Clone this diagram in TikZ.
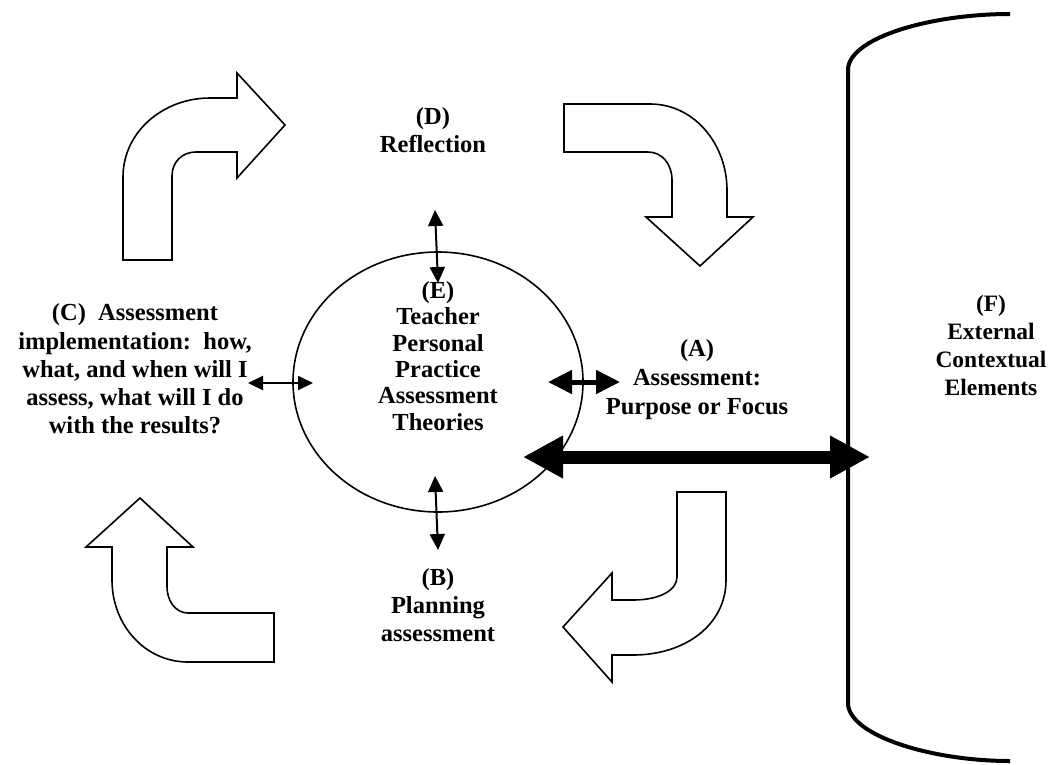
\documentclass[tikz,border=0pt]{standalone}
\usepackage{fontspec}
\setmainfont{Liberation Serif}
\usetikzlibrary{arrows.meta}
\begin{document}
\begin{tikzpicture}[x=1pt,y=-1pt,
  lbl/.style={align=center,inner sep=0pt,font=\bfseries\fontsize{24.5}{#1}\selectfont},
  bent/.style={draw=black,line width=1.6pt,line join=miter,fill=white},
  thin/.style={line width=2pt,{Triangle[length=16pt,width=15pt]}-{Triangle[length=16pt,width=15pt]}},
  mid/.style={line width=5pt,{Triangle[length=24pt,width=23pt]}-{Triangle[length=24pt,width=23pt]}},
  thick/.style={line width=13pt,{Triangle[length=40pt,width=40pt]}-{Triangle[length=40pt,width=40pt]}}]
\useasboundingbox (0,0) rectangle (1049,764);

% central theory ellipse
\draw[line width=1.6pt] (438,382) ellipse [x radius=145, y radius=130];
\node[lbl=26.4] (E) at (438,356) {(E)\\Teacher\\Personal\\Practice\\Assessment\\Theories};

% cycle stage labels
\node[lbl=28] (D) at (433,130) {(D)\\Reflection};
\node[lbl=29] (A) at (697,380) {(A)\\Assessment:\\Purpose or Focus};
\node[lbl=28] (B) at (438,605) {(B)\\Planning\\assessment};
\node[lbl=28.3] (C) at (135,369) {(C)\ \ Assessment\\implementation:\ \ how,\\what, and when will I\\assess, what will I do\\with the results?};
\node[lbl=28,font=\bfseries\fontsize{23.5}{28}\selectfont] (F) at (991,345) {(F)\\External\\Contextual\\Elements};

% external context bracket
\draw[line width=4pt] (1010,14) .. controls (930,14) and (848,38) .. (848,70)
  -- (848,703) .. controls (848,735) and (930,761) .. (1010,761);

% bent cycle arrows
\draw[bent] (123,260) -- (123,177) .. controls (123,132) and (163,98) .. (210,98)
  -- (237,98) -- (237,73) -- (285,125) -- (237,178) -- (237,152) -- (196,152)
  .. controls (182,152) and (172,162) .. (172,176) -- (172,260) -- cycle;
\draw[bent] (564,104) -- (650,104) .. controls (695,104) and (727,145) .. (727,190)
  -- (727,217) -- (753,217) -- (700,266) -- (646,217) -- (672,217) -- (672,180)
  .. controls (672,164) and (662,152) .. (648,152) -- (564,152) -- cycle;
\draw[bent] (274,613) -- (188,613) .. controls (175,613) and (167,600) .. (167,587)
  -- (167,547) -- (193,547) -- (140,498) -- (86,547) -- (112,547) -- (112,580)
  .. controls (112,625) and (145,662) .. (188,662) -- (274,662) -- cycle;
\draw[bent] (677,492) -- (677,577) .. controls (677,590) and (660,600) .. (633,600)
  -- (612,600) -- (612,573) -- (563,627) -- (612,682) -- (612,655) -- (633,655)
  .. controls (685,655) and (726,625) .. (726,580) -- (726,492) -- cycle;

% link end points
\coordinate (dT) at (435,210);
\coordinate (dB) at (438,283);
\coordinate (bT) at (435,476);
\coordinate (bB) at (438,550);
\coordinate (cL) at (248,383);
\coordinate (cR) at (313,383);
\coordinate (aL) at (548,382);
\coordinate (aR) at (620,382);
\coordinate (fL) at (523,457);
\coordinate (fR) at (870,457);

% links between theories and stages
\draw[thin] (dT) -- (dB);
\draw[thin] (bT) -- (bB);
\draw[line width=2pt,{Triangle[length=15pt,width=14pt]}-{Triangle[length=15pt,width=14pt]}] (cL) -- (cR);
\draw[mid] (aL) -- (aR);
\draw[thick] (fL) -- (fR);
\end{tikzpicture}
\end{document}
